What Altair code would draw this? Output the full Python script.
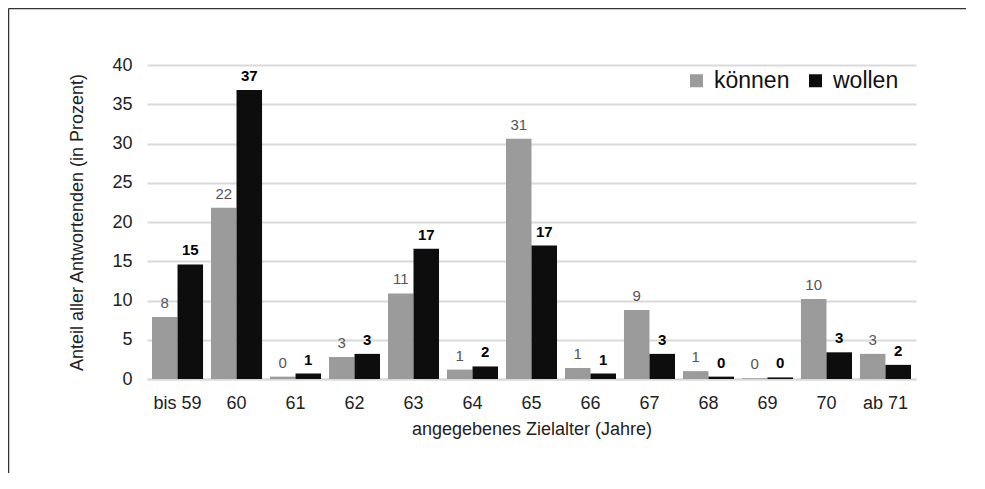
import altair as alt
import pandas as pd

categories = ["bis 59", "60", "61", "62", "63", "64", "65", "66", "67", "68", "69", "70", "ab 71"]
koennen = [7.9, 21.8, 0.3, 2.8, 10.9, 1.2, 30.6, 1.4, 8.8, 1.0, 0.1, 10.2, 3.2]
wollen = [14.6, 36.8, 0.7, 3.2, 16.6, 1.6, 17.0, 0.7, 3.2, 0.3, 0.2, 3.4, 1.8]
series = ["können", "wollen"]
colors = ["#9b9b9b", "#0d0d0d"]
y_ticks = [0, 5, 10, 15, 20, 25, 30, 35, 40]

rows = []
for c, k, w in zip(categories, koennen, wollen):
    rows.append({"cat": c, "serie": series[0], "val": k})
    rows.append({"cat": c, "serie": series[1], "val": w})
df = pd.DataFrame(rows)

FONT = "Liberation Sans"
W, H = 769, 314
PAD = {"left": 139, "top": 57, "right": 50, "bottom": 94}

xenc = alt.X("cat:N", sort=categories,
             scale=alt.Scale(paddingInner=0.135, paddingOuter=0.085),
             axis=alt.Axis(title="angegebenes Zielalter (Jahre)", labelAngle=0,
                           labelFontSize=18, labelColor="#222222", labelPadding=15,
                           titleFontSize=18, titleColor="#222222", titleFontWeight="normal",
                           titlePadding=8, ticks=False, domainColor="#d9d9d9",
                           domainWidth=2, grid=False, labelFont=FONT, titleFont=FONT))
xoff = alt.XOffset("serie:N", sort=series, scale=alt.Scale(paddingInner=0, paddingOuter=0))
yenc = alt.Y("val:Q", scale=alt.Scale(domain=[0, 40], nice=False),
             axis=alt.Axis(title="Anteil aller Antwortenden (in Prozent)", values=y_ticks,
                           labelFontSize=18, labelColor="#222222", labelPadding=15,
                           labelOverlap=False, tickCount=20,
                           titleFontSize=18, titleColor="#222222", titleFontWeight="normal",
                           titlePadding=25, domain=False, ticks=False,
                           gridColor="#d9d9d9", gridWidth=2, labelFont=FONT, titleFont=FONT))

base = alt.Chart(df)

bars = base.mark_bar().encode(
    x=xenc, xOffset=xoff, y=yenc,
    color=alt.Color("serie:N", sort=series,
                    scale=alt.Scale(domain=series, range=colors),
                    legend=alt.Legend(title=None, orient="none", legendX=538, legendY=4,
                                      direction="horizontal", symbolType="square",
                                      symbolSize=169, symbolStrokeWidth=0, labelFontSize=23,
                                      labelFont=FONT, labelColor="#111111", labelOffset=6,
                                      columnPadding=14)),
)

txt_k = base.transform_filter(alt.datum.serie == series[0]).mark_text(
    baseline="alphabetic", dy=-9, fontSize=15, font=FONT, color="#555555"
).encode(x=xenc, xOffset=xoff, y=yenc, text=alt.Text("val:Q", format=".0f"))

txt_w = base.transform_filter(alt.datum.serie == series[1]).mark_text(
    baseline="alphabetic", dy=-9, fontSize=15, font=FONT, color="#000000", fontWeight="bold"
).encode(x=xenc, xOffset=xoff, y=yenc, text=alt.Text("val:Q", format=".0f"))

top_border = alt.Chart(pd.DataFrame({"a": [0]})).mark_rule(color="#333333", strokeWidth=1.5).encode(
    x=alt.value(-138.5), x2=alt.value(W + PAD["right"]), y=alt.value(-56.5))
left_border = alt.Chart(pd.DataFrame({"a": [0]})).mark_rule(color="#333333", strokeWidth=1.5).encode(
    x=alt.value(-138.5), y=alt.value(-56.5), y2=alt.value(H + PAD["bottom"]))

chart = alt.layer(bars, txt_k, txt_w, top_border, left_border).properties(
    width=W, height=H, padding=PAD, autosize=alt.AutoSizeParams(type="none")
).configure_view(stroke=None)

chart.save("out.html", embed_options={"renderer": "svg", "actions": False})
